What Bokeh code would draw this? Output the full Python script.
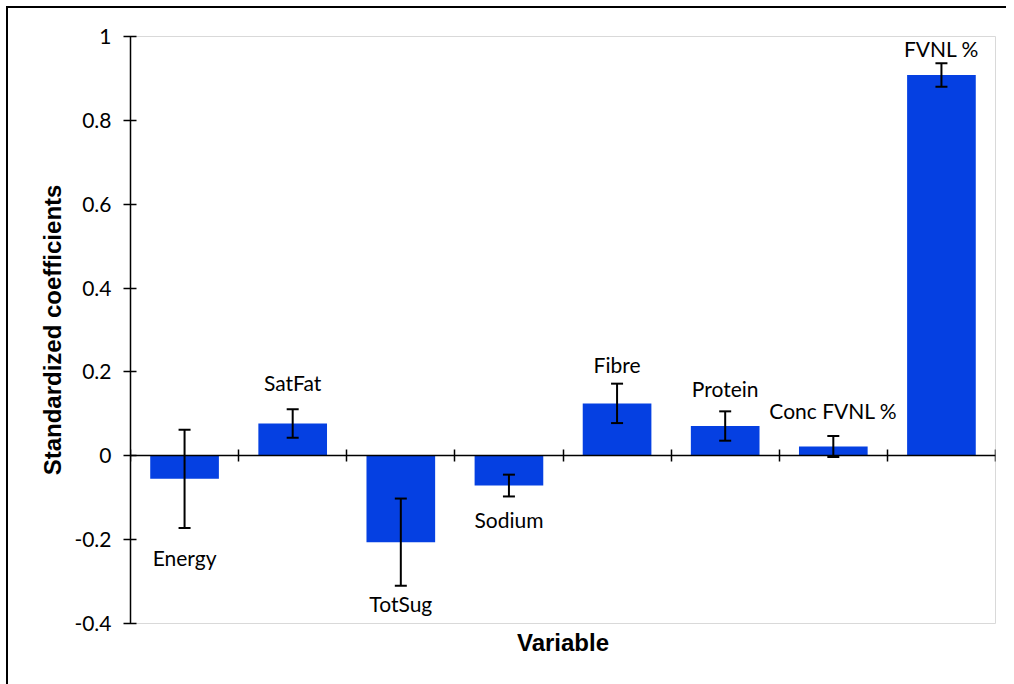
from bokeh.plotting import figure
from bokeh.models import (ColumnDataSource, Range1d, FixedTicker, Whisker, TeeHead, Title)
from bokeh.core.properties import value
from bokeh.embed import file_html
from bokeh.resources import INLINE

# Standardized regression coefficients with their error margins
variables = ["Energy", "SatFat", "TotSug", "Sodium", "Fibre", "Protein", "Conc FVNL %", "FVNL %"]
coefficients = [-0.055, 0.077, -0.206, -0.071, 0.125, 0.071, 0.022, 0.908]
errors = [0.117, 0.034, 0.104, 0.026, 0.047, 0.035, 0.025, 0.028]

# Vertical placement of each bar's name label (data units)
label_y = [-0.243, 0.175, -0.352, -0.152, 0.218, 0.161, 0.108, 0.972]

y_ticks = [-0.4, -0.2, 0, 0.2, 0.4, 0.6, 0.8, 1]
y_tick_labels = ["-0.4", "-0.2", "0", "0.2", "0.4", "0.6", "0.8", "1"]

BAR_BLUE = "#0540E2"
LABEL_FONT = "Lato"
TITLE_FONT = "Liberation Sans"

centers = [i + 0.5 for i in range(len(variables))]
src = ColumnDataSource(dict(
    x=centers,
    coef=coefficients,
    upper=[c + e for c, e in zip(coefficients, errors)],
    lower=[c - e for c, e in zip(coefficients, errors)],
    label_y=label_y,
    name=variables,
))

# Canvas sits inside a black frame drawn by the page element's border
p = figure(frame_width=865, frame_height=587,
           min_border_left=122, min_border_right=11,
           min_border_top=28, min_border_bottom=61,
           x_range=Range1d(0, len(variables)), y_range=Range1d(-0.4, 1),
           output_backend="svg", toolbar_location=None,
           styles={"border-left": "2px solid black", "border-top": "2px solid black",
                   "margin-left": "6px", "margin-top": "6px"})
p.background_fill_color = "white"
p.border_fill_color = "white"
p.outline_line_color = "#d9d9d9"
p.outline_line_width = 1
p.xgrid.visible = False
p.ygrid.visible = False

p.vbar(x="x", top="coef", bottom=0, width=0.635, source=src,
       fill_color=BAR_BLUE, line_color=None)

p.add_layout(Whisker(base="x", upper="upper", lower="lower", source=src,
                     level="overlay", line_color="black", line_width=2,
                     upper_head=TeeHead(size=12, line_color="black", line_width=2),
                     lower_head=TeeHead(size=12, line_color="black", line_width=2)))

p.text(x="x", y="label_y", text="name", source=src,
       text_align="center", text_baseline="middle",
       text_font=value(LABEL_FONT), text_font_size="21px", text_color="black")

# Category axis runs along zero with dividers between the bars (no tick labels)
divider_ticks = list(range(len(variables) + 1))
xa = p.xaxis[0]
xa.fixed_location = 0
xa.ticker = FixedTicker(ticks=divider_ticks)
xa.major_label_overrides = {t: "" for t in divider_ticks}
xa.major_label_text_font_size = "10px"
xa.major_label_standoff = 0
xa.major_tick_in = 6
xa.major_tick_out = 6
xa.minor_tick_line_color = None
xa.axis_line_color = "black"
xa.axis_line_width = 1.5
xa.major_tick_line_color = "black"
xa.major_tick_line_width = 1.5

ya = p.yaxis[0]
ya.ticker = FixedTicker(ticks=y_ticks)
ya.major_label_overrides = dict(zip(y_ticks, y_tick_labels))
ya.major_label_text_font = LABEL_FONT
ya.major_label_text_font_size = "21px"
ya.major_label_text_color = "black"
ya.major_label_standoff = 12
ya.major_tick_in = 6
ya.major_tick_out = 7
ya.minor_tick_line_color = None
ya.axis_line_color = "black"
ya.axis_line_width = 1.5
ya.major_tick_line_color = "black"
ya.major_tick_line_width = 1.5
ya.axis_label = "Standardized coefficients"
ya.axis_label_text_font = TITLE_FONT
ya.axis_label_text_font_size = "24px"
ya.axis_label_text_font_style = "bold"
ya.axis_label_text_color = "black"
ya.axis_label_standoff = 5

p.add_layout(Title(text="Variable", align="center", text_font=TITLE_FONT,
                   text_font_size="24px", text_font_style="bold",
                   text_color="black", standoff=6), "below")

open("out.html", "w").write(file_html(p, INLINE))
